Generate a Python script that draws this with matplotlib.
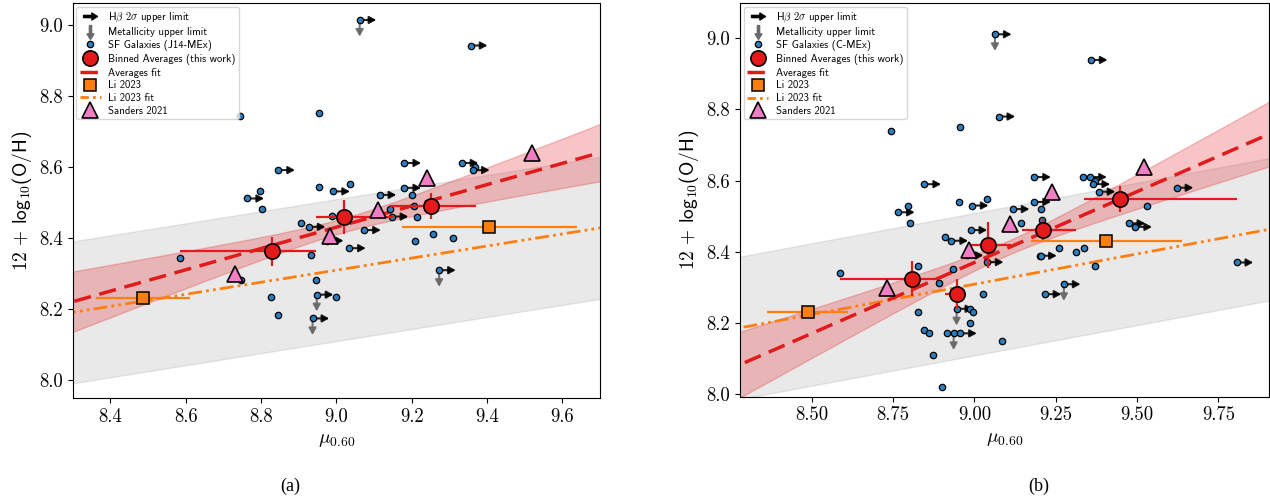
import matplotlib
matplotlib.use('Agg')
import matplotlib.pyplot as plt
import numpy as np
from matplotlib.lines import Line2D
from matplotlib.path import Path

plt.rcParams['font.family'] = ['cmr10', 'DejaVu Serif']
plt.rcParams['mathtext.fontset'] = 'cm'
plt.rcParams['axes.formatter.use_mathtext'] = True

# ---- panel (a): J14-MEx galaxies (x, y, Hbeta limit, metallicity limit)
j14_x = [8.744, 8.954, 8.846, 8.953, 8.992, 8.798, 8.764, 8.802, 8.907, 8.927,
         8.988, 8.975, 8.584, 8.933, 8.746, 8.945, 8.948, 8.998, 8.826, 8.846,
         8.937, 9.062, 9.357, 9.181, 9.333, 9.369, 9.363, 9.037, 9.181, 9.201,
         9.115, 9.206, 9.142, 9.147, 9.213, 9.074, 9.034, 9.208, 9.257, 9.310,
         9.273]
j14_y = [8.742, 8.751, 8.591, 8.542, 8.531, 8.532, 8.511, 8.481, 8.442, 8.431,
         8.461, 8.392, 8.342, 8.351, 8.280, 8.281, 8.240, 8.232, 8.232, 8.182,
         8.173, 9.014, 8.942, 8.611, 8.611, 8.601, 8.591, 8.551, 8.541, 8.521,
         8.521, 8.491, 8.481, 8.460, 8.460, 8.422, 8.371, 8.392, 8.411, 8.401,
         8.309]
j14_hb = [0, 0, 1, 0, 1, 0, 1, 0, 0, 1,
          0, 1, 0, 0, 0, 0, 1, 0, 0, 0,
          1, 1, 1, 1, 1, 0, 1, 0, 1, 0,
          1, 0, 0, 1, 0, 1, 1, 0, 0, 0,
          1]
j14_met = [0, 0, 0, 0, 0, 0, 0, 0, 0, 0,
           0, 0, 0, 0, 0, 0, 1, 0, 0, 0,
           1, 1, 0, 0, 0, 0, 0, 0, 0, 0,
           0, 0, 0, 0, 0, 0, 0, 0, 0, 0,
           1]

# binned averages (a)
bin_a_x = [8.828, 9.020, 9.251]
bin_a_y = [8.362, 8.460, 8.490]
bin_a_xlo = [0.243, 0.074, 0.108]
bin_a_xhi = [0.117, 0.132, 0.120]
bin_a_yerr = [0.040, 0.048, 0.037]
fit_a = [0.300, 5.730]           # slope, intercept
fit_a_band = [9.02, 0.020, 0.115]  # pivot, err at pivot, slope err

# ---- panel (b): C-MEx galaxies
cmex_x = [9.063, 9.074, 8.744, 8.955, 8.846, 8.953, 8.992, 9.040, 8.797, 8.765,
          8.802, 8.908, 8.929, 8.988, 8.976, 9.038, 8.585, 8.827, 8.933, 8.890,
          9.026, 8.945, 8.985, 8.997, 8.825, 8.987, 8.846, 8.859, 8.916, 8.936,
          8.956, 8.873, 8.900, 9.085, 9.358, 9.184, 9.334, 9.356, 9.372, 9.366,
          9.382, 9.622, 9.184, 9.118, 9.205, 9.208, 9.143, 9.532, 9.474, 9.495,
          9.259, 9.312, 9.336, 9.202, 9.206, 9.370, 9.275, 9.216, 9.806]
cmex_y = [9.011, 8.780, 8.740, 8.750, 8.590, 8.540, 8.530, 8.549, 8.530, 8.511,
          8.480, 8.441, 8.431, 8.461, 8.390, 8.371, 8.341, 8.360, 8.351, 8.311,
          8.281, 8.240, 8.240, 8.231, 8.231, 8.201, 8.181, 8.171, 8.171, 8.171,
          8.171, 8.111, 8.021, 8.150, 8.939, 8.610, 8.610, 8.610, 8.599, 8.590,
          8.569, 8.580, 8.540, 8.520, 8.520, 8.490, 8.480, 8.530, 8.480, 8.470,
          8.410, 8.400, 8.410, 8.389, 8.389, 8.361, 8.309, 8.281, 8.370]
cmex_hb = [1, 1, 0, 0, 1, 0, 1, 0, 0, 1,
           0, 0, 1, 1, 1, 1, 0, 0, 0, 0,
           0, 1, 0, 0, 0, 0, 0, 0, 0, 0,
           1, 0, 0, 0, 1, 1, 0, 1, 0, 1,
           1, 1, 1, 1, 0, 0, 0, 0, 1, 1,
           0, 0, 0, 1, 0, 0, 1, 1, 1]
cmex_met = [1, 0, 0, 0, 0, 0, 0, 0, 0, 0,
            0, 0, 0, 0, 0, 0, 0, 0, 0, 0,
            0, 1, 0, 0, 0, 0, 0, 0, 0, 1,
            0, 0, 0, 0, 0, 0, 0, 0, 0, 0,
            0, 0, 0, 0, 0, 0, 0, 0, 0, 0,
            0, 0, 0, 0, 0, 0, 1, 0, 0]

bin_b_x = [8.809, 8.945, 9.043, 9.211, 9.449]
bin_b_y = [8.325, 8.281, 8.419, 8.462, 8.549]
bin_b_xlo = [0.224, 0.037, 0.055, 0.065, 0.113]
bin_b_xhi = [0.081, 0.027, 0.070, 0.102, 0.357]
bin_b_yerr = [0.050, 0.042, 0.064, 0.030, 0.037]
fit_b = [0.398, 4.788]
fit_b_band = [9.10, 0.020, 0.110]

# ---- literature
li_x = [8.487, 9.406]
li_y = [8.231, 8.431]
li_xlo = [0.124, 0.231]
li_xhi = [0.124, 0.232]
li_yerr = [0.010, 0.010]
li_fit = [0.170, 6.779]
li_scatter = 0.20

sanders_x = [8.730, 8.984, 9.110, 9.240, 9.520]
sanders_y = [8.297, 8.405, 8.478, 8.568, 8.638]

RED = '#e31a1c'
ORANGE = '#ff7f0e'
PINK = '#f07ec4'
BLUE = '#2a7fc1'

# arrow shaped markers for the legend
arrow_r = Path([(-1, -0.16), (0.2, -0.16), (0.2, -0.5), (1, 0), (0.2, 0.5),
                (0.2, 0.16), (-1, 0.16), (-1, -0.16)])
arrow_d = Path([(-0.16, 1), (-0.16, -0.2), (-0.5, -0.2), (0, -1), (0.5, -0.2),
                (0.16, -0.2), (0.16, 1), (-0.16, 1)])

ASTYLE = '<|-,head_length=0.4,head_width=0.22'


def panel(ax, gx, gy, ghb, gmet, bx, by, bxlo, bxhi, byerr, fit, band, label):
    xs = np.linspace(8.0, 10.2, 300)
    # Li 2023 scatter band
    li_line = li_fit[0] * xs + li_fit[1]
    ax.fill_between(xs, li_line - li_scatter, li_line + li_scatter,
                    color='grey', alpha=0.17, lw=1, zorder=1)
    # averages fit band
    fl = fit[0] * xs + fit[1]
    hw = np.sqrt(band[1] ** 2 + (band[2] * (xs - band[0])) ** 2)
    ax.fill_between(xs, fl - hw, fl + hw, color=RED, alpha=0.25, lw=1, zorder=1.5)

    gx = np.array(gx); gy = np.array(gy)
    ghb = np.array(ghb, bool); gmet = np.array(gmet, bool)
    for x, y in zip(gx[ghb], gy[ghb]):
        ax.annotate('', xy=(x, y), xytext=(12, 0), textcoords='offset points',
                    arrowprops=dict(arrowstyle=ASTYLE, color='k', alpha=0.85,
                                    lw=1.5, shrinkA=0, shrinkB=0), zorder=3)
    for x, y in zip(gx[gmet], gy[gmet]):
        ax.annotate('', xy=(x, y), xytext=(0, -12), textcoords='offset points',
                    arrowprops=dict(arrowstyle=ASTYLE, color='dimgray', alpha=0.9,
                                    lw=1.5, shrinkA=0, shrinkB=0), zorder=3)
    ax.plot(gx, gy, 'o', color=BLUE, mec='k', ms=4.6, mew=0.9, zorder=4)

    ax.plot(xs, li_line, color=ORANGE, lw=2, ls=(0, (5, 1.5, 1, 1.5, 1, 1.5)), zorder=2)
    ax.plot(xs, fl, color=RED, lw=2.5, ls=(0, (5, 2.5)), zorder=2)

    ax.errorbar(li_x, li_y, xerr=[li_xlo, li_xhi], yerr=li_yerr, fmt='s',
                color=ORANGE, mec='k', ms=8, mew=1.1, elinewidth=1.6, capsize=0,
                zorder=5)
    ax.errorbar(bx, by, xerr=[bxlo, bxhi], yerr=byerr, fmt='o', color=RED,
                mec='k', ms=11, mew=1.2, elinewidth=1.6, capsize=0, zorder=5)
    ax.plot(sanders_x, sanders_y, '^', color=PINK, mec='k', ms=12, mew=1.2,
            zorder=5)

    handles = [
        Line2D([], [], ls='none', marker=arrow_r, color='k', ms=10),
        Line2D([], [], ls='none', marker=arrow_d, color='dimgray', ms=10),
        Line2D([], [], ls='none', marker='o', color=BLUE, mec='k', ms=4.6, mew=0.9),
        Line2D([], [], ls='none', marker='o', color=RED, mec='k', ms=11, mew=1.2),
        Line2D([], [], color=RED, lw=2.5, ls=(0, (5, 2.5))),
        Line2D([], [], ls='none', marker='s', color=ORANGE, mec='k', ms=8, mew=1.1),
        Line2D([], [], color=ORANGE, lw=2, ls=(0, (3, 1.5, 1, 1.5, 1, 1.5))),
        Line2D([], [], ls='none', marker='^', color=PINK, mec='k', ms=12, mew=1.2),
    ]
    labels = [r'H$\beta$ $2\sigma$ upper limit', 'Metallicity upper limit',
              'SF Galaxies (%s)' % label, 'Binned Averages (this work)',
              'Averages fit', 'Li 2023', 'Li 2023 fit', 'Sanders 2021']
    ax.legend(handles, labels, loc='upper left', borderaxespad=0.35,
              prop={'family': ['cmss10', 'DejaVu Sans'], 'size': 7.7},
              handlelength=2.0, handletextpad=0.7, labelspacing=0.26,
              borderpad=0.3)

    ax.set_xlabel(r'$\mu_{0.60}$', fontsize=14)
    ax.set_ylabel(r'$12\,+\,$log$_{10}$(O/H)', fontsize=14,
                  fontfamily=['cmss10', 'DejaVu Sans'])
    ax.tick_params(labelsize=13.5)


fig = plt.figure(figsize=(12.7, 4.96), dpi=100)
ax1 = fig.add_axes([0.0572, 0.197, 0.4152, 0.7964])
ax2 = fig.add_axes([0.5827, 0.2002, 0.4168, 0.7931])

panel(ax1, j14_x, j14_y, j14_hb, j14_met, bin_a_x, bin_a_y, bin_a_xlo, bin_a_xhi,
      bin_a_yerr, fit_a, fit_a_band, 'J14-MEx')
ax1.set_xlim(8.3, 9.7)
ax1.set_ylim(7.948, 9.061)
ax1.set_xticks([8.4, 8.6, 8.8, 9.0, 9.2, 9.4, 9.6])
ax1.set_yticks([8.0, 8.2, 8.4, 8.6, 8.8, 9.0])

panel(ax2, cmex_x, cmex_y, cmex_hb, cmex_met, bin_b_x, bin_b_y, bin_b_xlo, bin_b_xhi,
      bin_b_yerr, fit_b, fit_b_band, 'C-MEx')
ax2.set_xlim(8.279, 9.907)
ax2.set_ylim(7.993, 9.098)
ax2.set_xticks([8.5, 8.75, 9.0, 9.25, 9.5, 9.75])
ax2.set_yticks([8.0, 8.2, 8.4, 8.6, 8.8, 9.0])
ax2.xaxis.set_major_formatter(matplotlib.ticker.FormatStrFormatter('%.2f'))
ax1.yaxis.set_major_formatter(matplotlib.ticker.FormatStrFormatter('%.1f'))
ax2.yaxis.set_major_formatter(matplotlib.ticker.FormatStrFormatter('%.1f'))
ax1.xaxis.set_major_formatter(matplotlib.ticker.FormatStrFormatter('%.1f'))

fig.text(290 / 1270, 0.02, '(a)', ha='center', va='center',
         family='Liberation Serif', fontsize=13)
fig.text(1039 / 1270, 0.02, '(b)', ha='center', va='center',
         family='Liberation Serif', fontsize=13)

fig.savefig('out.png', dpi=100)
